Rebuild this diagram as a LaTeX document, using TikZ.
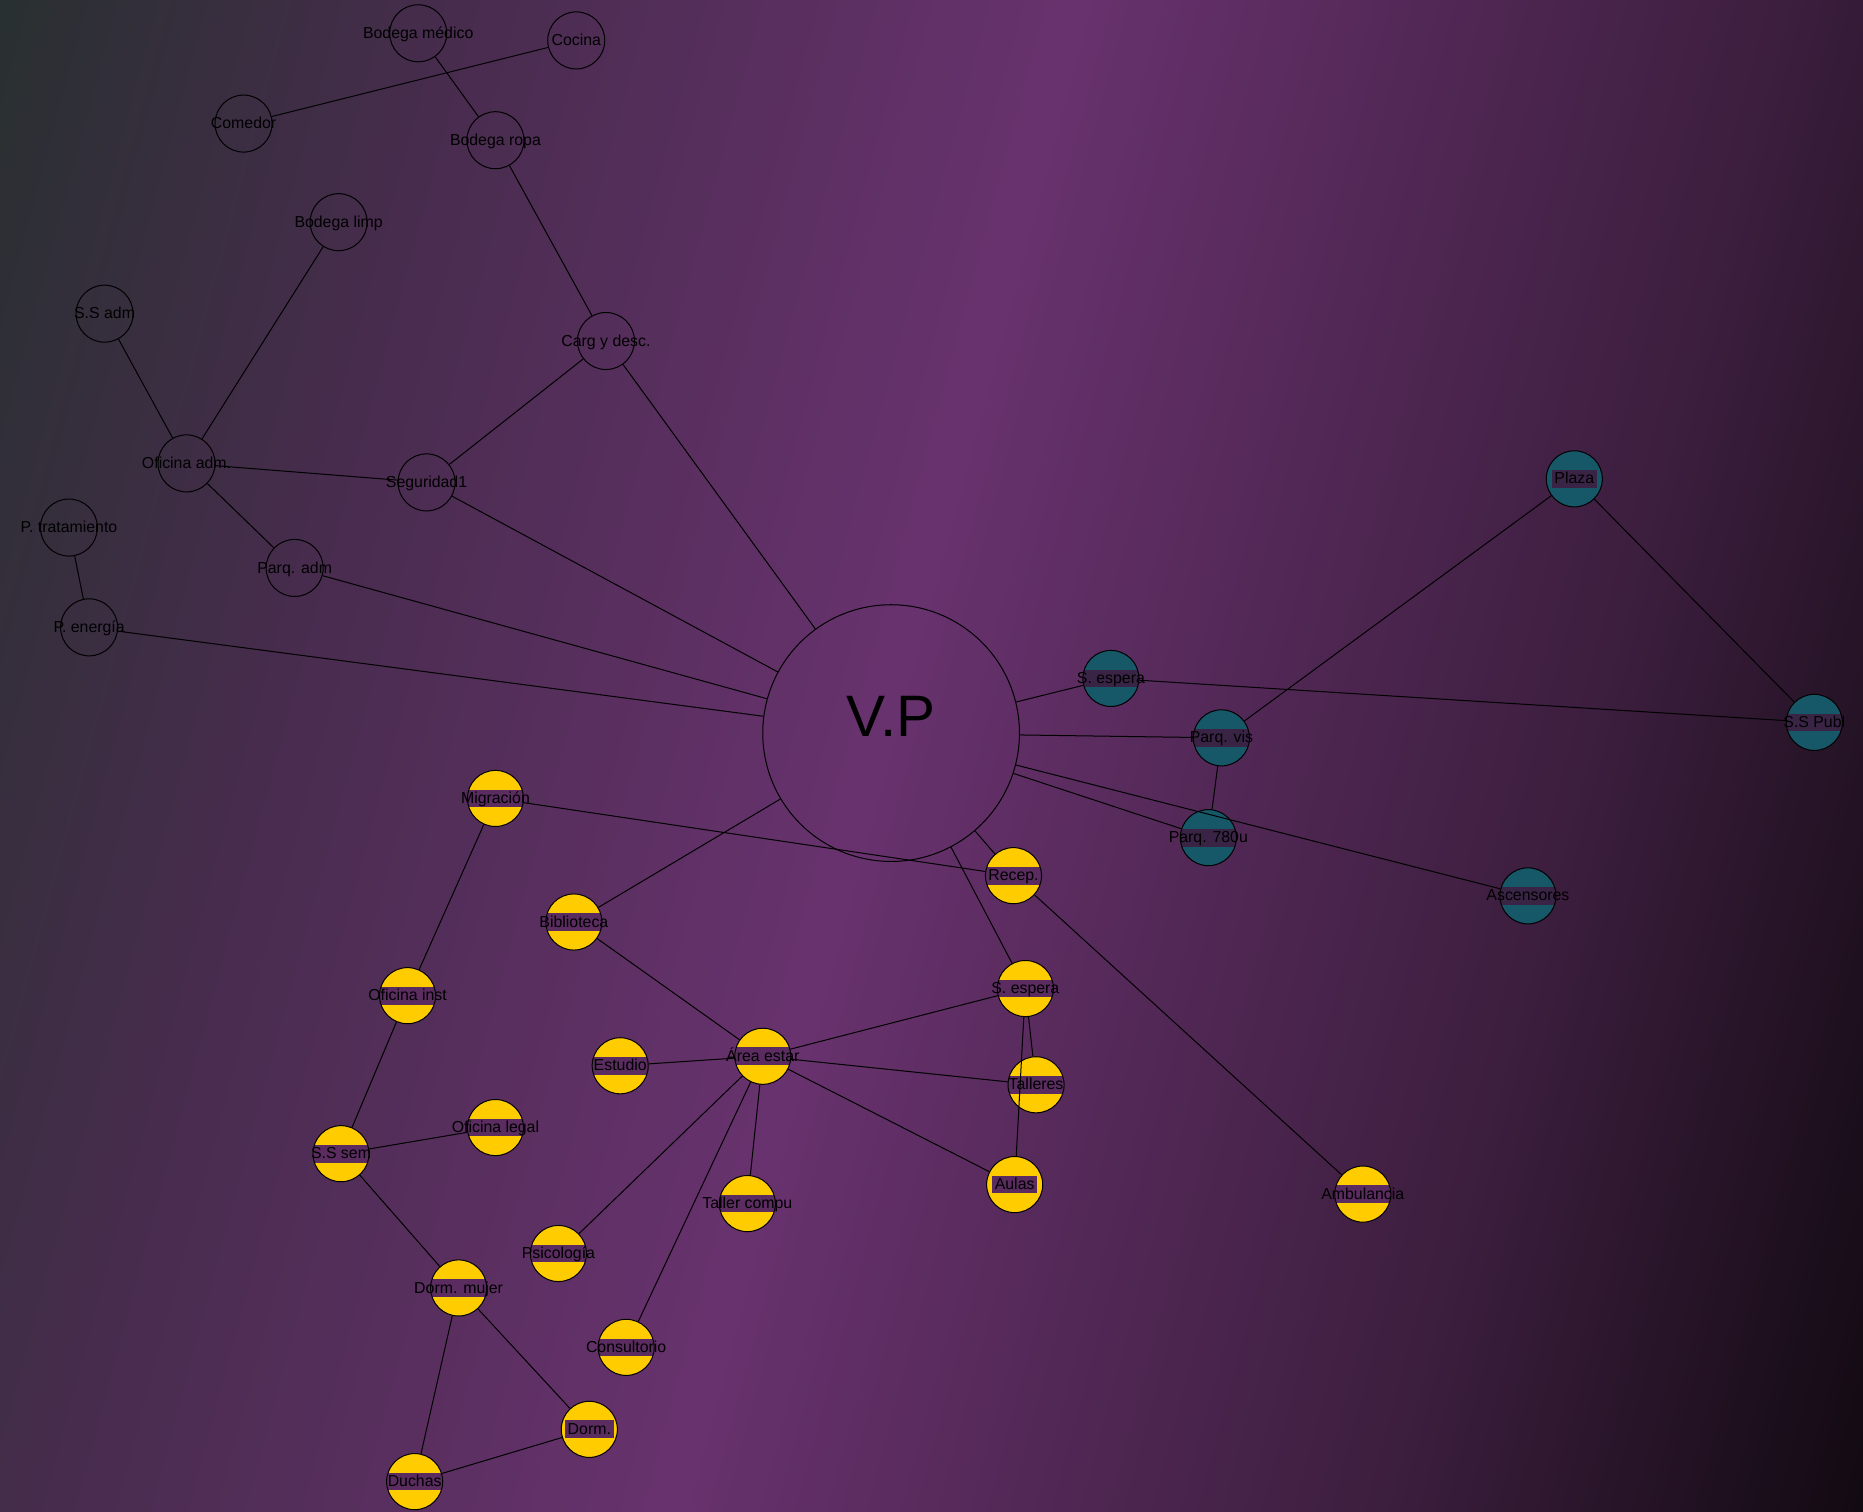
\documentclass[tikz,border=0pt]{standalone}
\usepackage{fontspec}
\setmainfont{Liberation Sans}
\definecolor{fondoA}{RGB}{40,48,48}
\definecolor{fondoB}{RGB}{72,44,78}
\definecolor{fondoC}{RGB}{104,50,110}
\definecolor{fondoD}{RGB}{60,30,62}
\definecolor{fondoE}{RGB}{18,10,18}
\definecolor{amarillo}{RGB}{255,204,0}
\definecolor{petroleo}{RGB}{22,88,104}
\definecolor{franja}{RGB}{90,44,96}
\definecolor{franjaT}{RGB}{58,36,70}
\pgfdeclarehorizontalshading{fondo}{100bp}{color(0bp)=(fondoA); color(19bp)=(fondoA);
  color(32bp)=(fondoB); color(48.4bp)=(fondoC); color(67.7bp)=(fondoD);
  color(80.6bp)=(fondoE); color(100bp)=(fondoE)}

\begin{document}
\begin{tikzpicture}[x=0.025cm,y=-0.025cm,font=\fontsize{9.5}{11}\selectfont,
  etq/.style={inner sep=0.6pt,text height=1.5ex,text depth=.35ex},
  banda/.style 2 args={path picture={\pgfmathsetlengthmacro\anchoband{width("#1")}
    \fill[#2] ([xshift=-\anchoband/2-1pt,yshift=-5.3pt]path picture bounding box.center)
      rectangle ([xshift=\anchoband/2+1pt,yshift=5.3pt]path picture bounding box.center);}},
  sala/.style={circle,draw,line width=0.6pt,minimum size=1.2cm,inner sep=0pt,label={[etq]center:#1}},
  pub/.style={circle,draw,line width=0.6pt,fill=petroleo,minimum size=1.18cm,inner sep=0pt,
    banda={#1}{franjaT},label={[etq]center:#1}},
  res/.style={circle,draw,line width=0.6pt,fill=amarillo,minimum size=1.18cm,inner sep=0pt,
    banda={#1}{franja},label={[etq]center:#1}},
  lin/.style={line width=0.6pt}]
\useasboundingbox (0,0) rectangle (1568,1272);
\shade[shading=fondo,shading angle=-15] (0,0) rectangle (1568,1272);

% centro
\node[circle,draw,line width=0.6pt,minimum size=5.4cm,
  label={[font=\fontsize{35}{40}\selectfont,yshift=0.35cm]center:V.P}] (vp) at (750,617) {};

% zona administrativa
\node[sala=Bodega médico] (bmed) at (352,28) {};
\node[sala=Cocina] (cocina) at (485,34) {};
\node[sala=Comedor] (comedor) at (205,104) {};
\node[sala=Bodega ropa] (bropa) at (417,118) {};
\node[sala=Bodega limp] (blimp) at (285,187) {};
\node[sala=S.S adm] (ssadm) at (88,264) {};
\node[sala=Carg y desc.] (carga) at (510,287) {};
\node[sala=Oficina adm.] (ofadm) at (157,390) {};
\node[sala=Seguridad1] (segur) at (359,406) {};
\node[sala=P. tratamiento] (ptrat) at (58,444) {};
\node[sala=Parq. adm] (parqadm) at (248,478) {};
\node[sala=P. energía] (pener) at (75,528) {};

% zona publica
\node[pub=Plaza] (plaza) at (1325,403) {};
\node[pub=S. espera] (esperat) at (935,571) {};
\node[pub=Parq. vis] (parqvis) at (1028,621) {};
\node[pub=S.S Publ] (sspub) at (1527,608) {};
\node[pub=Parq. 780u] (parq780) at (1017,705) {};
\node[pub=Ascensores] (ascens) at (1286,754) {};

% zona residencial
\node[res=Migración] (migra) at (417,672) {};
\node[res=Biblioteca] (biblio) at (483,776) {};
\node[res=Recep.] (recep) at (853,737) {};
\node[res=Oficina inst] (ofinst) at (343,838) {};
\node[res=S. espera] (esperay) at (863,832) {};
\node[res=Estudio] (estudio) at (522,897) {};
\node[res=Área estar] (estar) at (642,889) {};
\node[res=Talleres] (talleres) at (872,913) {};
\node[res=Oficina legal] (oflegal) at (417,949) {};
\node[res=S.S sem] (sssem) at (287,971) {};
\node[res=Aulas] (aulas) at (854,997) {};
\node[res=Ambulancia] (ambul) at (1147,1005) {};
\node[res=Taller compu] (tcompu) at (629,1013) {};
\node[res=Psicología] (psico) at (470,1055) {};
\node[res=Dorm. mujer] (dmujer) at (386,1084) {};
\node[res=Consultorio] (consult) at (527,1134) {};
\node[res=Dorm.] (dorm) at (496,1203) {};
\node[res=Duchas] (duchas) at (349,1247) {};

% conexiones
\draw[lin] (bmed) -- (bropa) (comedor) -- (cocina) (bropa) -- (carga)
  (carga) -- (segur) (carga) -- (vp) (ofadm) -- (ssadm) (ofadm) -- (blimp)
  (ofadm) -- (segur) (ofadm) -- (parqadm) (segur) -- (vp) (parqadm) -- (vp)
  (ptrat) -- (pener) (pener) -- (vp);
\draw[lin] (vp) -- (esperat) (esperat) -- (sspub) (vp) -- (parqvis)
  (parqvis) -- (plaza) (plaza) -- (sspub) (parqvis) -- (parq780)
  (vp) -- (parq780) (vp) -- (ascens);
\draw[lin] (migra) -- (recep) (vp) -- (recep) (recep) -- (ambul)
  (vp) -- (esperay) (vp) -- (biblio) (biblio) -- (estar)
  (migra) -- (ofinst) (ofinst) -- (sssem) (sssem) -- (oflegal)
  (sssem) -- (dmujer) (dmujer) -- (dorm) (dmujer) -- (duchas) (duchas) -- (dorm)
  (estar) -- (estudio) (estar) -- (esperay) (estar) -- (talleres) (estar) -- (aulas)
  (estar) -- (tcompu) (estar) -- (psico) (estar) -- (consult)
  (esperay) -- (talleres) (esperay) -- (aulas);
\end{tikzpicture}
\end{document}
